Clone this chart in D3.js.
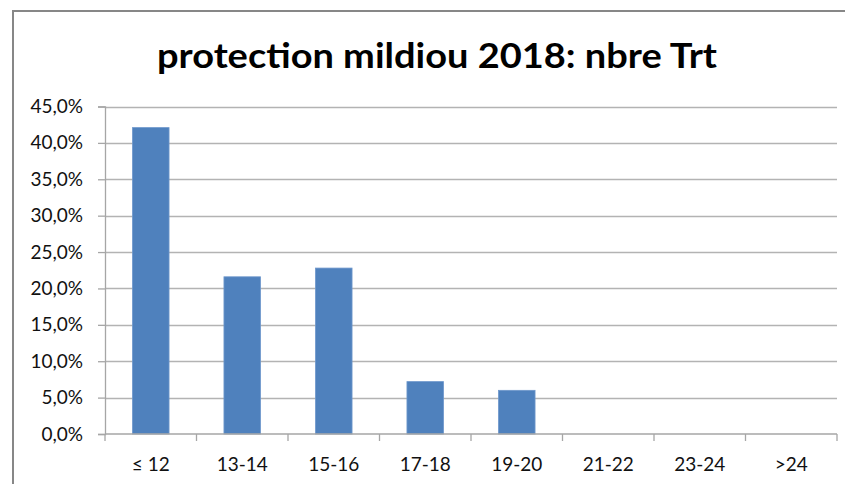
<!DOCTYPE html>
<html lang="fr">
<head>
<meta charset="UTF-8">
<title>protection mildiou 2018</title>
<script src="https://cdn.jsdelivr.net/npm/d3@7"></script>
<style>
  body { margin: 0; background: #fff; }
  text { font-family: Lato, "Open Sans", sans-serif; }
</style>
</head>
<body>
<div id="chart"></div>
<script>
// data
var categories = ["≤ 12", "13-14", "15-16", "17-18", "19-20", "21-22", "23-24", ">24"];
var shares = [42.1, 21.6, 22.8, 7.2, 6.0, 0, 0, 0];
var yTicks = [0, 5, 10, 15, 20, 25, 30, 35, 40, 45];
var titleText = "protection mildiou 2018: nbre Trt";

var W = 845, H = 484;

var svg = d3.select("#chart").append("svg")
  .attr("width", W).attr("height", H);

// outer frame of the chart
svg.append("rect")
  .attr("x", 13).attr("y", 11)
  .attr("width", W).attr("height", H)
  .attr("fill", "none").attr("stroke", "#878787").attr("stroke-width", 2);

svg.append("text")
  .attr("x", 437).attr("y", 68)
  .attr("text-anchor", "middle")
  .attr("textLength", 560).attr("lengthAdjust", "spacingAndGlyphs")
  .style("font-size", "35px").style("font-weight", "bold")
  .text(titleText);

var x = d3.scaleBand().domain(categories).range([105, 837]);
var y = d3.scaleLinear().domain([0, 45]).range([434, 106.5]);

// gridlines
svg.append("g").selectAll("line")
  .data(yTicks.slice(1))
  .enter().append("line")
  .attr("x1", 105).attr("x2", 837)
  .attr("y1", function(d) { return Math.round(y(d)) + 0.5; })
  .attr("y2", function(d) { return Math.round(y(d)) + 0.5; })
  .attr("stroke", "#b3b3b3").attr("stroke-width", 1.3);

// bars
svg.append("g").selectAll("rect")
  .data(shares)
  .enter().append("rect")
  .filter(function(d) { return d > 0; })
  .attr("x", function(d, i) { return x(categories[i]) + x.bandwidth() * 0.3; })
  .attr("width", x.bandwidth() * 0.4)
  .attr("y", function(d) { return y(d); })
  .attr("height", function(d) { return y(0) - y(d); })
  .attr("fill", "#4f81bd")
  .attr("stroke", "#6f98cc").attr("stroke-width", 0.8);

// y axis
var yAxis = svg.append("g")
  .attr("transform", "translate(105,0)")
  .attr("font-size", 19)
  .call(d3.axisLeft(y).tickValues(yTicks).tickSize(7).tickPadding(15)
    .tickFormat(function(d) { return d.toFixed(1).replace(".", ",") + "%"; }));
yAxis.attr("font-size", 19).attr("font-family", null);
yAxis.select(".domain").attr("stroke", "#a6a6a6").attr("stroke-width", 1.3);
yAxis.selectAll(".tick line").attr("stroke", "#a6a6a6").attr("stroke-width", 1.3);
yAxis.selectAll("text").style("font-size", "19px").attr("fill", "#111");

// x axis: ticks at band edges
var xAxis = svg.append("g").attr("transform", "translate(0,434)");
xAxis.append("line")
  .attr("x1", 105).attr("x2", 837)
  .attr("stroke", "#a6a6a6").attr("stroke-width", 1.3);
xAxis.selectAll("line.edge")
  .data(categories.concat(["end"]))
  .enter().append("line")
  .attr("class", "edge")
  .attr("x1", function(d, i) { return 105 + i * x.step(); })
  .attr("x2", function(d, i) { return 105 + i * x.step(); })
  .attr("y1", 0).attr("y2", 7)
  .attr("stroke", "#a6a6a6").attr("stroke-width", 1.3);
xAxis.selectAll("text")
  .data(categories)
  .enter().append("text")
  .attr("x", function(d) { return x(d) + x.bandwidth() / 2; })
  .attr("y", 37)
  .attr("text-anchor", "middle")
  .style("font-size", "19px").attr("fill", "#111")
  .text(function(d) { return d; });
</script>
</body>
</html>
